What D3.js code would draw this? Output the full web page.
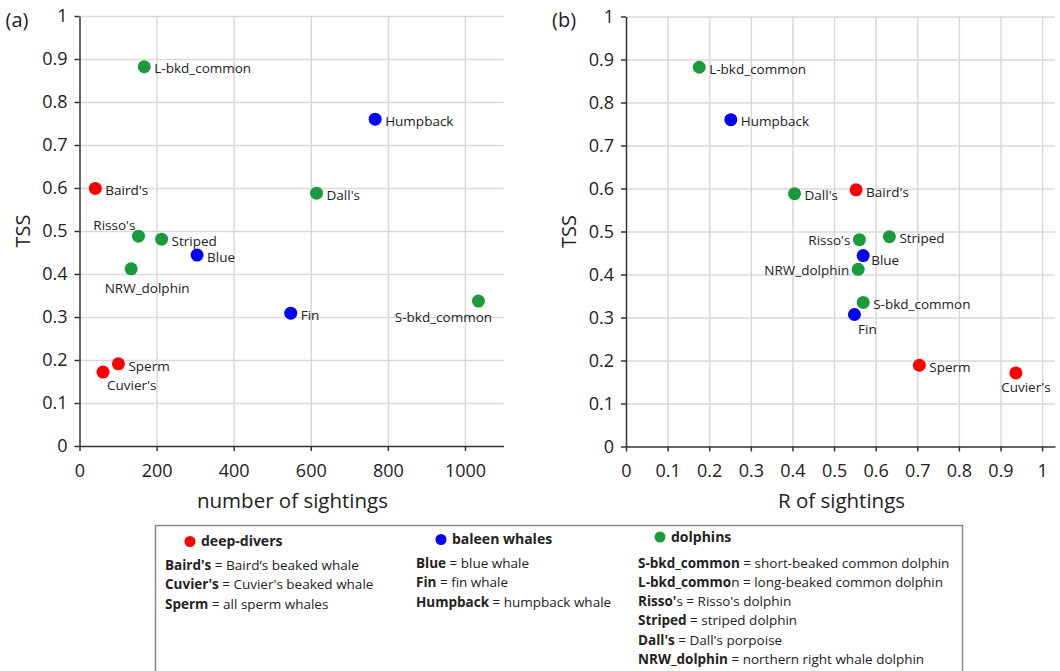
<!DOCTYPE html>
<html>
<head>
    <meta charset="utf-8">
    <title>TSS vs sightings</title>
    <script type="text/javascript" src="https://cdn.jsdelivr.net/npm/d3@7"></script>
    <style>
        body { margin: 0; background: #fff; }
        text { font-family: "Open Sans", "Noto Sans", sans-serif; fill: #222; }
    </style>
</head>

<body>

<script type="text/javascript">
    // species shown in both panels
    var species = ["L-bkd_common", "Humpback", "Baird's", "Dall's", "Risso's", "Striped",
                   "Blue", "NRW_dolphin", "S-bkd_common", "Fin", "Sperm", "Cuvier's"];
    var group = ["dolphins", "baleen whales", "deep-divers", "dolphins", "dolphins", "dolphins",
                 "baleen whales", "dolphins", "dolphins", "baleen whales", "deep-divers", "deep-divers"];
    var sightings = [168, 767, 41, 615, 153, 213, 305, 134, 1035, 548, 101, 61];
    var tssA = [0.882, 0.760, 0.599, 0.588, 0.488, 0.481, 0.444, 0.412, 0.337, 0.309, 0.191, 0.172];
    var rSightings = [0.176, 0.252, 0.553, 0.405, 0.561, 0.633, 0.570, 0.558, 0.570, 0.549, 0.705, 0.937];
    var tssB = [0.882, 0.760, 0.597, 0.588, 0.481, 0.488, 0.444, 0.412, 0.335, 0.307, 0.189, 0.171];

    var yTicks = [0, 0.1, 0.2, 0.3, 0.4, 0.5, 0.6, 0.7, 0.8, 0.9, 1];
    var xTicksA = [0, 200, 400, 600, 800, 1000];
    var xTicksB = [0, 0.1, 0.2, 0.3, 0.4, 0.5, 0.6, 0.7, 0.8, 0.9, 1];

    var groups = ["deep-divers", "baleen whales", "dolphins"];
    var groupColors = ["#ff0000", "#0000ff", "#1b9a3c"];

    var legendLines = {
        "deep-divers": [["Baird's", " = Baird\u2019s beaked whale"],
                        ["Cuvier's", " = Cuvier's beaked whale"],
                        ["Sperm", " = all sperm whales"]],
        "baleen whales": [["Blue", " = blue whale"],
                          ["Fin", " = fin whale"],
                          ["Humpback", " = humpback whale"]],
        "dolphins": [["S-bkd_common", " = short-beaked common dolphin"],
                     ["L-bkd_commo", "n = long-beaked common dolphin"],
                     ["Risso'", "s = Risso's dolphin"],
                     ["Striped", " = striped dolphin"],
                     ["Dall's", " = Dall's porpoise"],
                     ["NRW_dolphin", " = northern right whale dolphin"]]
    };

    // label placement per panel: [dx, dy, anchor]; default is to the right
    var labelA = {
        "Risso's": [-3, -11, "end"],
        "NRW_dolphin": [16, 19, "middle"],
        "S-bkd_common": [-35, 16, "middle"],
        "Cuvier's": [4, 13, "start"]
    };
    var labelB = {
        "Risso's": [-9, 1, "end"],
        "NRW_dolphin": [-9, 1, "end"],
        "Blue": [8, 5, "start"],
        "Fin": [13, 15, "middle"],
        "Cuvier's": [10, 14, "middle"]
    };

    var w = 1060, h = 671;
    var color = d3.scaleOrdinal().domain(groups).range(groupColors);

    var svg = d3.select("body").append("svg")
            .attr("width", w)
            .attr("height", h);

    function panel(opts) {
        var x = d3.scaleLinear().domain(opts.xDomain).range([opts.left, opts.right]);
        var y = d3.scaleLinear().domain([0, 1]).range([opts.bottom, opts.top]);
        var g = svg.append("g");

        // grid
        g.append("g")
            .attr("transform", "translate(" + opts.left + ",0)")
            .call(d3.axisLeft(y).tickValues(yTicks.slice(1)).tickSize(-(opts.right - opts.left)).tickFormat(""))
            .call(function(s) {
                s.select(".domain").remove();
                s.selectAll("line").attr("stroke", "#d9d9d9").attr("stroke-width", 1.5);
            });
        g.append("g")
            .attr("transform", "translate(0," + opts.bottom + ")")
            .call(d3.axisBottom(x).tickValues(opts.xTicks.slice(1)).tickSize(-(opts.bottom - opts.top)).tickFormat(""))
            .call(function(s) {
                s.select(".domain").remove();
                s.selectAll("line").attr("stroke", "#d9d9d9").attr("stroke-width", 1.5);
            });

        // axes
        g.append("g")
            .attr("transform", "translate(" + opts.left + ",0)")
            .call(d3.axisLeft(y).tickValues(yTicks).tickSize(5).tickSizeOuter(0).tickPadding(7)
                .tickFormat(function(d) { return String(+d.toFixed(1)); }))
            .call(function(s) {
                s.select(".domain").attr("stroke", "#333").attr("stroke-width", 1.5);
                s.selectAll("line").attr("stroke", "#333").attr("stroke-width", 1.5);
                s.selectAll("text").style("font-size", "18px").attr("fill", "#222");
            });
        g.append("g")
            .attr("transform", "translate(0," + opts.bottom + ")")
            .call(d3.axisBottom(x).tickValues(opts.xTicks).tickSize(5).tickSizeOuter(0).tickPadding(13)
                .tickFormat(function(d) { return String(+d.toFixed(1)); }))
            .call(function(s) {
                s.select(".domain").attr("stroke", "#333").attr("stroke-width", 1.5);
                s.selectAll("line").attr("stroke", "#333").attr("stroke-width", 1.5);
                s.selectAll("text").style("font-size", "18px").attr("fill", "#222");
            });

        // titles
        g.append("text")
            .attr("x", opts.left - 74)
            .attr("y", 27)
            .style("font-size", "20px")
            .text(opts.tag);
        g.append("text")
            .attr("transform", "translate(" + (opts.left - 50) + "," + ((opts.top + opts.bottom) / 2) + ") rotate(-90)")
            .attr("text-anchor", "middle")
            .style("font-size", "20px")
            .text("TSS");
        g.append("text")
            .attr("x", (opts.left + opts.right) / 2 + 1)
            .attr("y", 508)
            .attr("text-anchor", "middle")
            .style("font-size", "20.5px")
            .text(opts.xTitle);

        var pts = species.map(function(s, i) {
            return {name: s, group: group[i], x: opts.xs[i], y: opts.ys[i]};
        });

        g.selectAll("text.lbl")
            .data(pts)
          .enter().append("text")
            .attr("class", "lbl")
            .attr("x", function(d) { return x(d.x) + (opts.labels[d.name] || [10])[0]; })
            .attr("y", function(d) { return y(d.y) + (opts.labels[d.name] || [0, 2])[1]; })
            .attr("dy", "0.35em")
            .attr("text-anchor", function(d) { return (opts.labels[d.name] || [0, 0, "start"])[2]; })
            .style("font-size", "13.5px")
            .text(function(d) { return d.name; });

        g.selectAll("circle.dot")
            .data(pts)
          .enter().append("circle")
            .attr("class", "dot")
            .attr("cx", function(d) { return x(d.x); })
            .attr("cy", function(d) { return y(d.y); })
            .attr("r", 6.5)
            .style("fill", function(d) { return color(d.group); });
    }

    panel({tag: "(a)", left: 79.5, right: 503.5, top: 16, bottom: 446,
           xDomain: [0, 1100], xTicks: xTicksA, xs: sightings, ys: tssA,
           xTitle: "number of sightings", labels: labelA});
    panel({tag: "(b)", left: 626, right: 1055, top: 16.5, bottom: 446.5,
           xDomain: [0, 1.031], xTicks: xTicksB, xs: rSightings, ys: tssB,
           xTitle: "R of sightings", labels: labelB});

    // legend box
    var legend = svg.append("g");
    legend.append("rect")
        .attr("x", 155.5).attr("y", 525.5)
        .attr("width", 807).attr("height", 160)
        .attr("fill", "#fff").attr("stroke", "#888").attr("stroke-width", 1.5);

    var legendCols = [
        {dotX: 190, headY: 541.5, textX: 165, firstY: 565, step: 19.5},
        {dotX: 441, headY: 539.5, textX: 416, firstY: 563, step: 19.5},
        {dotX: 660, headY: 537, textX: 638, firstY: 563, step: 19.2}
    ];

    groups.forEach(function(gname, i) {
        var c = legendCols[i];
        legend.append("circle")
            .attr("cx", c.dotX).attr("cy", c.headY).attr("r", 5.5)
            .style("fill", color(gname));
        legend.append("text")
            .attr("x", c.dotX + 11).attr("y", c.headY).attr("dy", "0.35em")
            .style("font-size", "14px").style("font-weight", "bold")
            .text(gname);
        legendLines[gname].forEach(function(line, j) {
            var t = legend.append("text")
                .attr("x", c.textX).attr("y", c.firstY + j * c.step).attr("dy", "0.35em")
                .style("font-size", "13.5px");
            t.append("tspan").style("font-weight", "bold").text(line[0]);
            t.append("tspan").text(line[1]);
        });
    });
</script>

</body>

</html>
